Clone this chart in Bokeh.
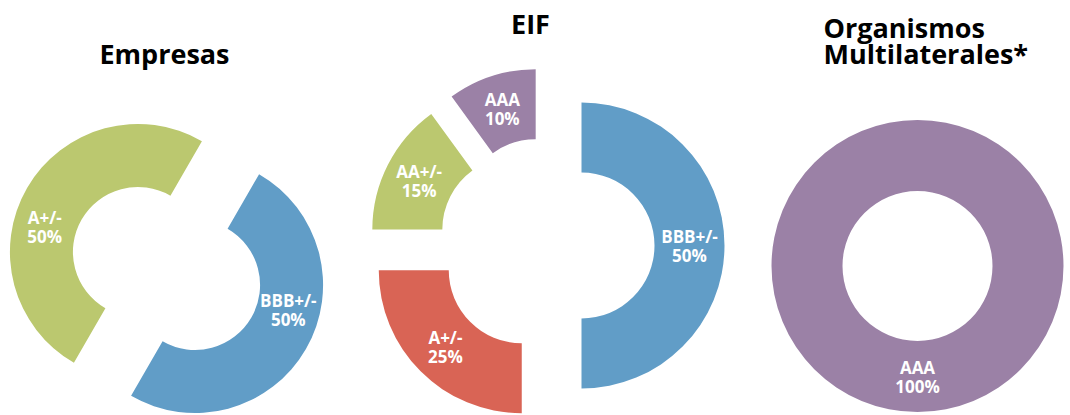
import math
from bokeh.plotting import figure
from bokeh.models import Range1d
from bokeh.core.properties import value
from bokeh.embed import file_html
from bokeh.resources import INLINE

# ---- data ----
titles = ["Empresas", "EIF", "Organismos\nMultilaterales*"]
empresas_ratings = ["BBB+/-", "A+/-"]
empresas_share = [50, 50]
eif_ratings = ["BBB+/-", "A+/-", "AA+/-", "AAA"]
eif_share = [50, 25, 15, 10]
multi_ratings = ["AAA"]
multi_share = [100]

BLUE = "#619DC7"
GREEN = "#BBC86F"
RED = "#D96455"
PURPLE = "#9B81A6"

# ---- layout (reference pixel space, y downward) ----
layout = [
    dict(cx=166, cy=268, R=128, r=65, explode=33, start=30, shift=15,
         colors=[BLUE, GREEN], tx=164, ty=53, talign="center"),
    dict(cx=546, cy=245, R=143, r=73, explode=35, start=0, shift=0,
         colors=[BLUE, RED, GREEN, PURPLE], tx=530, ty=23, talign="center"),
    dict(cx=917, cy=265.5, R=146, r=75, explode=0, start=0, shift=0,
         colors=[PURPLE], tx=823, ty=40, talign="left"),
]
series = [(empresas_ratings, empresas_share),
          (eif_ratings, eif_share),
          (multi_ratings, multi_share)]

W, H = 1070, 415
LABEL_LH = 19
TITLE_LH = 26

def Y(y):
    return H - y

p = figure(width=W, height=H, output_backend="svg", toolbar_location=None,
           x_axis_type=None, y_axis_type=None, min_border=0,
           x_range=Range1d(0, W), y_range=Range1d(0, H))
p.grid.visible = False
p.outline_line_color = None
p.background_fill_color = "white"
p.border_fill_color = "white"


def lines_at(x, y, lines, lh, **kw):
    n = len(lines)
    for i, line in enumerate(lines):
        off = ((n - 1) / 2.0 - i) * lh
        p.text(x=[x], y=[y + off], text=[line], text_baseline="middle", **kw)


for title, (ratings, shares), L in zip(titles, series, layout):
    total = float(sum(shares))
    acc = L["start"]
    for rating, share, color in zip(ratings, shares, L["colors"]):
        s = acc
        e = acc + share / total * 360.0
        acc = e
        mid = 90.0 - (s + e) / 2.0
        ex = L["explode"] * math.cos(math.radians(mid))
        ey = L["explode"] * math.sin(math.radians(mid))
        cx = L["cx"] + ex
        cy = Y(L["cy"]) + ey
        if share >= total:
            p.annulus(x=[cx], y=[cy], inner_radius=L["r"], outer_radius=L["R"],
                      fill_color=color, line_color=None)
        else:
            p.annular_wedge(x=[cx], y=[cy], inner_radius=L["r"], outer_radius=L["R"],
                            start_angle=math.radians(90.0 - e),
                            end_angle=math.radians(90.0 - s),
                            direction="anticlock",
                            fill_color=color, line_color=None)
        la = math.radians(mid + L["shift"])
        lr = (L["R"] + L["r"]) / 2.0
        lines_at(cx + lr * math.cos(la), cy + lr * math.sin(la),
                 [rating, f"{share}%"], LABEL_LH,
                 text_align="center",
                 text_font=value("Open Sans"), text_font_style="bold",
                 text_font_size="17px", text_color="white")
    lines_at(L["tx"], Y(L["ty"]), title.split("\n"), TITLE_LH,
             text_align=L["talign"],
             text_font=value("Open Sans"), text_font_style="bold",
             text_font_size="27px", text_color="black")

open("out.html", "w").write(file_html(p, INLINE))
